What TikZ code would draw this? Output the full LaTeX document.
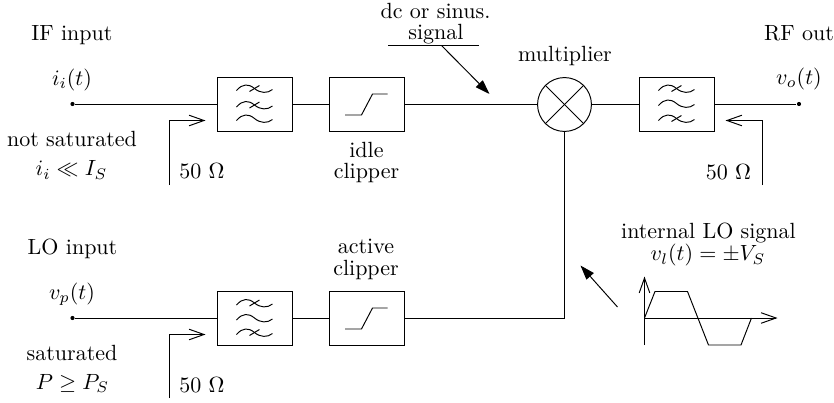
\documentclass[tikz,border=0pt]{standalone}
\usetikzlibrary{arrows.meta,calc}
\tikzset{
  x=0.4545pt,y=-0.4545pt,
  every path/.append style={line width=0.44pt},
  block/.style={draw,rectangle,inner sep=0pt,minimum width=34.1pt,minimum height=24.3pt},
  mixer/.style={draw,circle,inner sep=0pt,minimum size=24.5pt},
  terminal/.style={fill,circle,inner sep=0pt,minimum size=1.9pt},
  label/.style={anchor=base,inner sep=0pt,align=center},
  barb/.style={-{Straight Barb[length=6.8pt,width=4.8pt]}},
  solidtip/.style={-{Triangle[length=6.6pt,width=4.4pt]}},
  wl/.pic={\draw (-18,2) .. controls (-12,-5) and (-6,-5) .. (0,0) .. controls (6,5) and (13,5) .. (18,1);},
  wavecross/.pic={\draw (-18,2) .. controls (-12,-5) and (-6,-5) .. (0,0) .. controls (6,5) and (13,5) .. (18,1);
    \draw (-5,3) -- (5,-3);},
  limiter/.pic={\draw (-21.5,10.5) -- (-5,10.5) -- (6,-10.5) -- (21,-10.5);}
}
\begin{document}
\begin{tikzpicture}
\useasboundingbox (0,0) rectangle (834,402);
% blocks
\node[terminal] (in1) at (72.5,104) {};
\node[block] (f1) at (254.5,104.5) {};
\node[block] (c1) at (366.5,104.5) {};
\node[mixer] (m) at (564.5,104.5) {};
\node[block] (f3) at (676.5,104.5) {};
\node[terminal] (out) at (799,104) {};
\node[terminal] (in2) at (72.5,318) {};
\node[block] (f2) at (254.5,318.5) {};
\node[block] (c2) at (366.5,318.5) {};
% connectors
\draw (in1) -- (in1 -| f1.west);
\draw (f1) -- (c1);
\draw (c1) -- (m);
\draw (m) -- (f3);
\draw (f3.east |- out) -- (out);
\draw (in2) -- (in2 -| f2.west);
\draw (f2) -- (c2);
\draw (c2.east) -| (m.south);
\draw (m.north west) -- (m.south east);
\draw (m.north east) -- (m.south west);
% glyphs
\pic at ($(f1)+(0,-16)$) {wavecross};
\pic at ($(f1)+(0,0.5)$) {wavecross};
\pic at ($(f1)+(0,14)$) {wl};
\pic at ($(f3)+(0,-16)$) {wavecross};
\pic at ($(f3)+(0,-1)$) {wl};
\pic at ($(f3)+(0,14)$) {wavecross};
\pic at ($(f2)+(0,-15.5)$) {wavecross};
\pic at ($(f2)+(0,-0.5)$) {wl};
\pic at ($(f2)+(0,14)$) {wavecross};
\pic at (c1) {limiter};
\pic at (c2) {limiter};
% impedance arrows
\coordinate (z1a) at (169,185); \coordinate (z1b) at (205.5,120.5);
\coordinate (z2a) at (169,398); \coordinate (z2b) at (205.5,334.5);
\coordinate (z3a) at (762,185); \coordinate (z3b) at (725.5,120.5);
\draw[barb] (z1a) |- (z1b);
\draw[barb] (z2a) |- (z2b);
\draw[barb] (z3a) |- (z3b);
% dc signal
\coordinate (sl) at (388,45.5); \coordinate (sr) at (479,45.5);
\coordinate (ss) at (441.5,45.5); \coordinate (se) at (489.5,94);
\draw (sl) -- (sr);
\draw[solidtip] (ss) -- (se);
% LO arrow
\coordinate (ls) at (617.5,307); \coordinate (le) at (580.5,265.5);
\draw[solidtip] (ls) -- (le);
% waveform
\coordinate (ab) at (644.5,345); \coordinate (at) at (644.5,276.5);
\coordinate (al) at (644.5,318); \coordinate (ar) at (777.5,318);
\draw[barb] (ab) -- (at);
\draw[barb] (al) -- (ar);
\coordinate (w1) at (655,291.5); \coordinate (w2) at (687.5,291.5);
\coordinate (w3) at (708.5,345); \coordinate (w4) at (741,345); \coordinate (w5) at (751.5,318);
\draw (al) -- (w1) -- (w2) -- (w3) -- (w4) -- (w5);
% labels
\node[label] (t1) at (72,40.7) {IF input};
\node[label] (t2) at (72,85) {$i_i(t)$};
\node[label] (t3) at (72,146.7) {not saturated};
\node[label] (t4) at (71.5,175.7) {$i_i \ll I_S$};
\node[label] (t5) at (202,178) {50~$\Omega$};
\node[label] (t6) at (72.5,254) {LO input};
\node[label] (t7) at (72,299) {$v_p(t)$};
\node[label] (t8) at (72,360.7) {saturated};
\node[label] (t9) at (72.5,389) {$P \geq P_S$};
\node[label] (t10) at (202,392.7) {50~$\Omega$};
\node[label] (t11) at (366,253) {active};
\node[label] (t12) at (366,275.7) {clipper};
\node[label] (t13) at (366.5,157) {idle};
\node[label] (t14) at (366.5,178) {clipper};
\node[label] (t15) at (435.5,18.5) {dc or sinus.};
\node[label] (t16) at (436,39.5) {signal};
\node[label] (t17) at (565,61) {multiplier};
\node[label] (t18) at (799,40) {RF out};
\node[label] (t19) at (799,84) {$v_o(t)$};
\node[label] (t20) at (728.5,179) {50~$\Omega$};
\node[label] (t21) at (708.5,238) {internal LO signal};
\node[label] (t22) at (708,260.7) {$v_l(t) = \pm V_S$};
\end{tikzpicture}
\end{document}
